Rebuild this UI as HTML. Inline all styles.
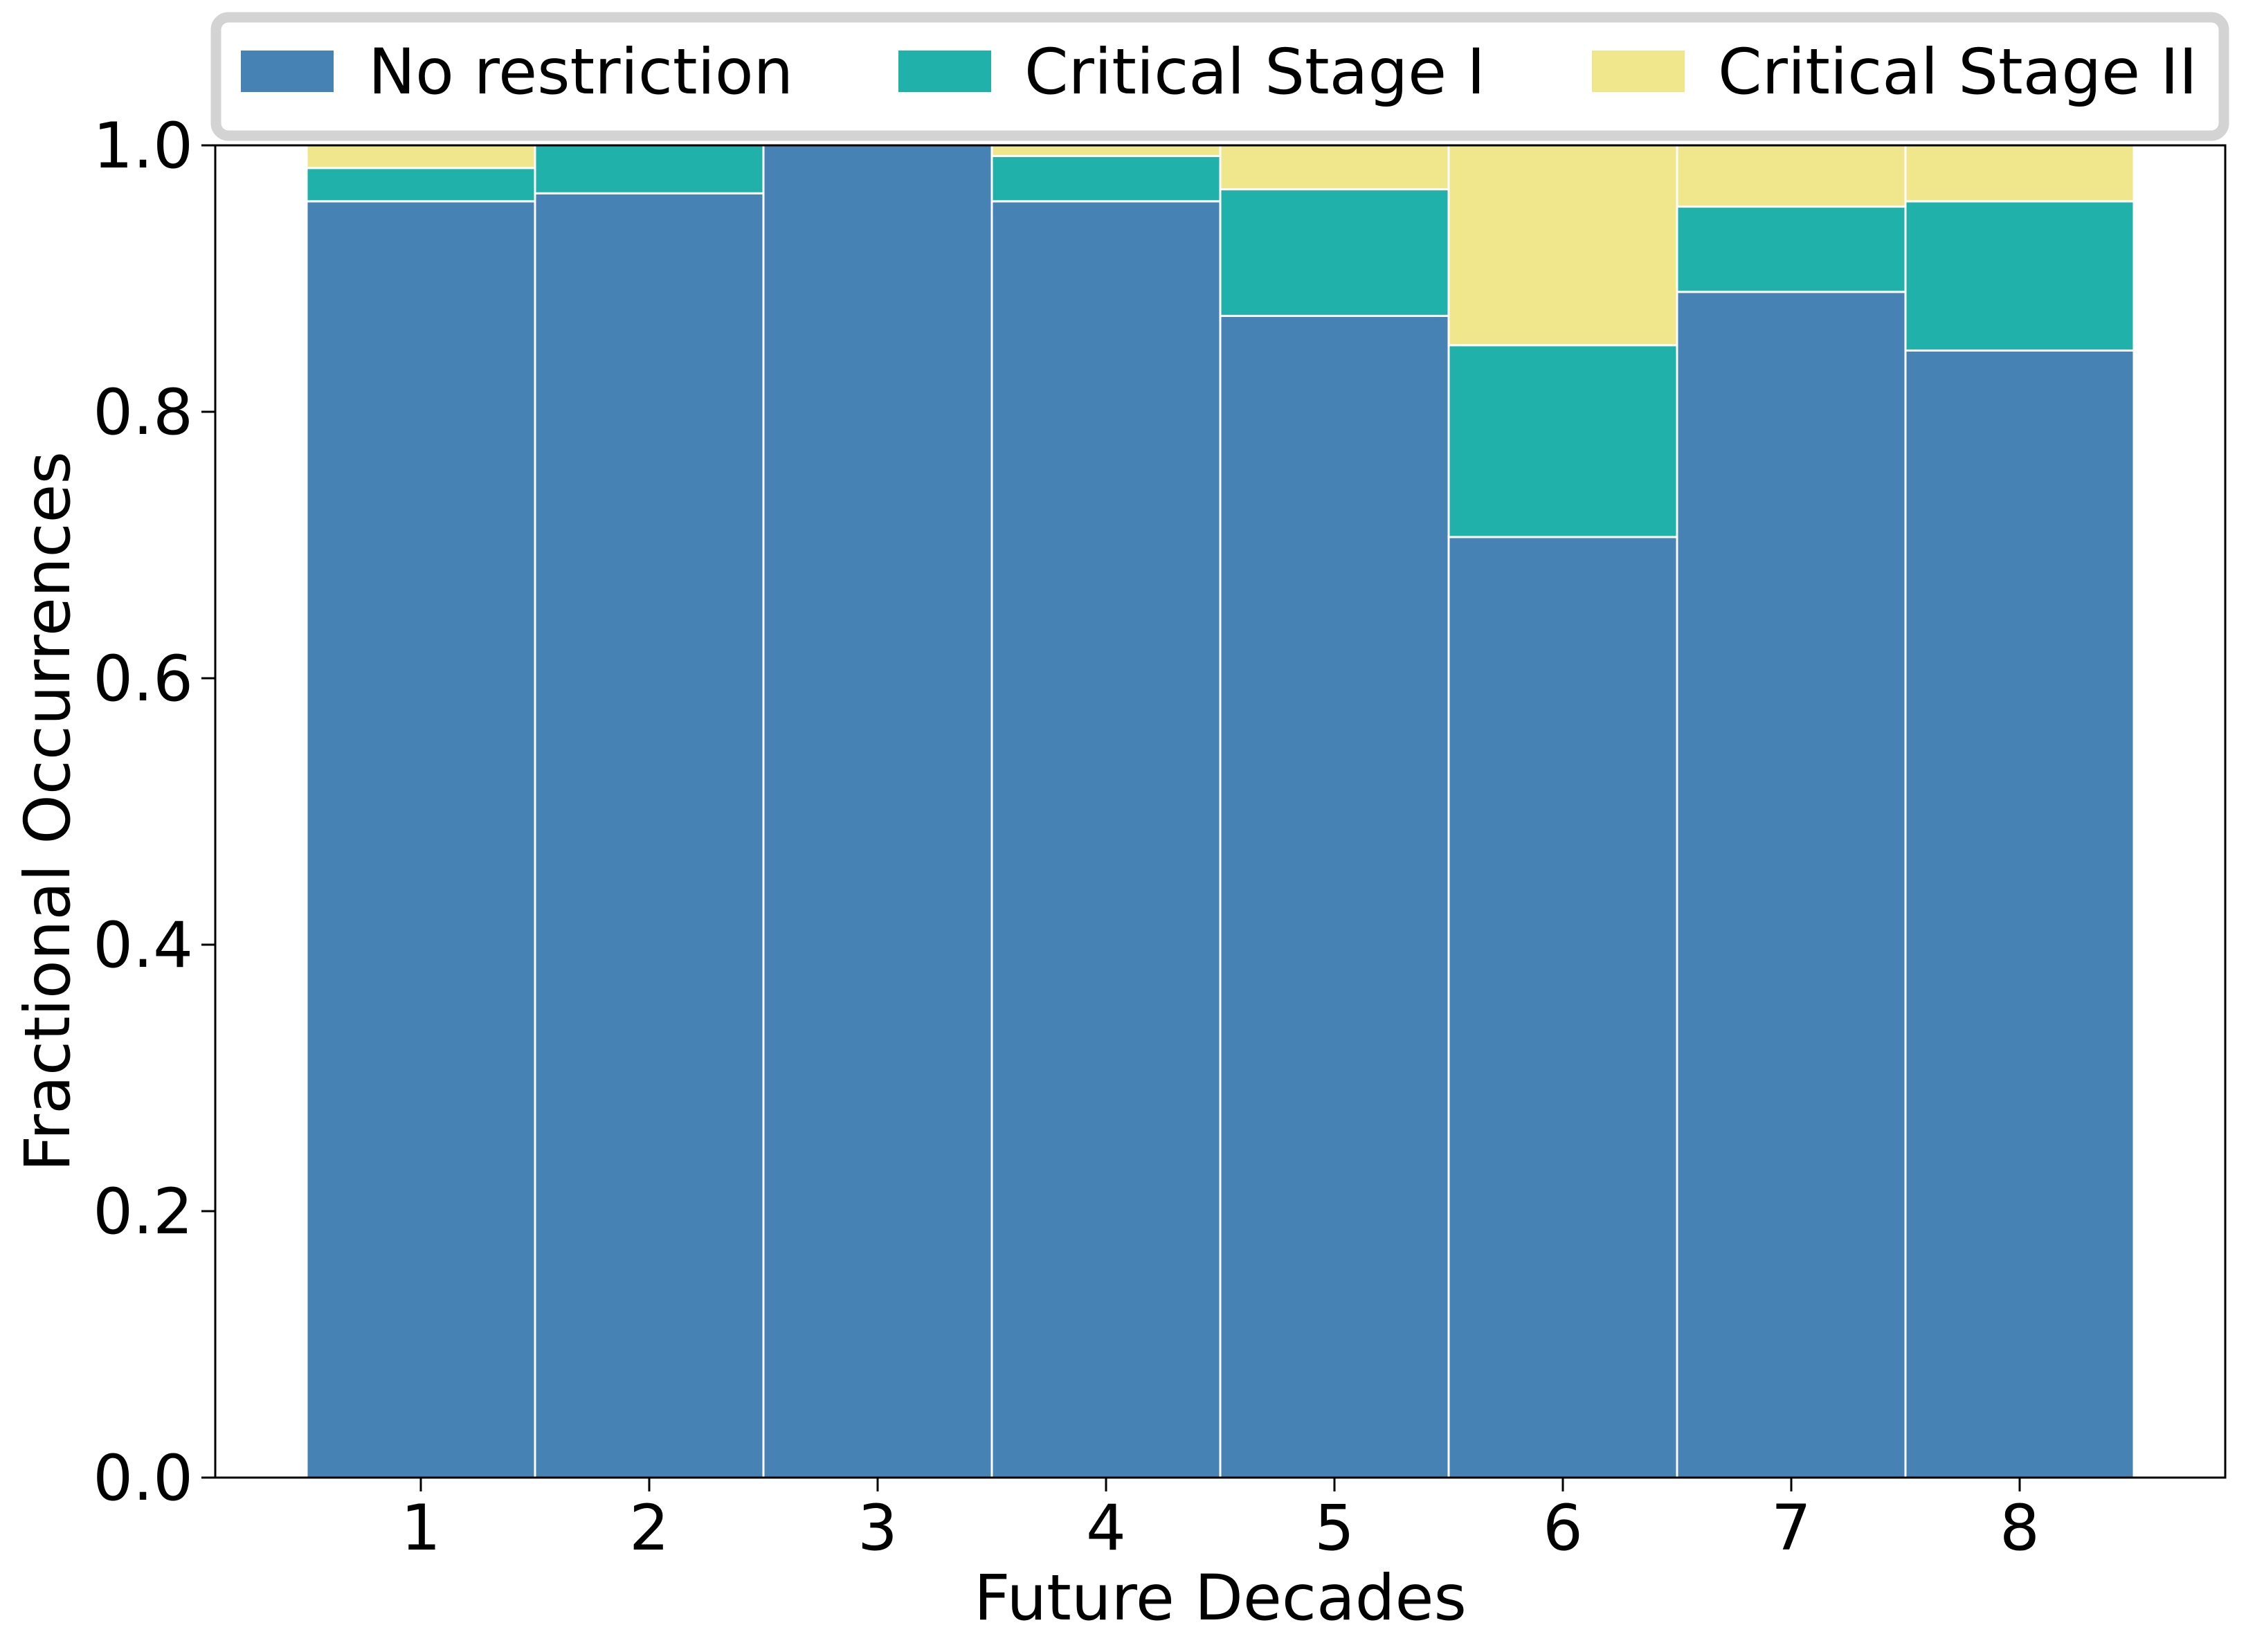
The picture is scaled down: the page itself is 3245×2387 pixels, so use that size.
<!DOCTYPE html>
<html><head><meta charset="utf-8"><style>
body{margin:0;background:#fff}
svg{display:block;font-family:"DejaVu Sans","Liberation Sans",sans-serif}
</style></head><body>
<svg id="chart" width="3245" height="2387" viewBox="0 0 3245 2387" xmlns="http://www.w3.org/2000/svg">
<rect width="3245" height="2387" fill="#fff"/>
<g id="bars"></g>
<g id="axes"></g>
<g>
<rect x="312" y="25" width="2901" height="171" rx="18" fill="#fff" stroke="#d3d3d3" stroke-width="15"/>
<rect x="348" y="73" width="134" height="60" fill="#4682b4"/>
<text x="532" y="135" font-size="91">No restriction</text>
<rect x="1298" y="73" width="134" height="60" fill="#20b2aa"/>
<text x="1480" y="135" font-size="91">Critical Stage I</text>
<rect x="2300" y="73" width="134" height="60" fill="#f0e68c"/>
<text x="2482" y="135" font-size="91">Critical Stage II</text>
</g>
</svg>
<script>
const categories = [1,2,3,4,5,6,7,8];
const noRestriction = [0.958,0.964,1.0,0.958,0.872,0.706,0.890,0.846];
const stageOne = [0.025,0.036,0.0,0.034,0.095,0.144,0.064,0.112];
const stageTwo = [0.017,0.0,0.0,0.008,0.033,0.150,0.046,0.042];
const yTicks = [0,0.2,0.4,0.6,0.8,1.0];
const yTickLabels = ["0.0","0.2","0.4","0.6","0.8","1.0"];

const NS="http://www.w3.org/2000/svg";
const L=311,R=3215,T=210,B=2135,xmin=0.1,xmax=8.9;
const X=v=>L+(v-xmin)/(xmax-xmin)*(R-L);
const Y=v=>B-v*(B-T);
function mk(tag,attrs,parent){const e=document.createElementNS(NS,tag);for(const k in attrs)e.setAttribute(k,attrs[k]);parent.appendChild(e);return e;}
const bars=document.getElementById('bars'), axes=document.getElementById('axes');
const series=[[noRestriction,'#4682b4','no-restriction'],[stageOne,'#20b2aa','critical-stage-1'],[stageTwo,'#f0e68c','critical-stage-2']];
categories.forEach((c,i)=>{
  let base=0;
  series.forEach(([arr,col,nm])=>{
    const v=arr[i];
    if(v>0){
      const r=mk('rect',{x:X(c-0.5),y:Y(base+v),width:X(c+0.5)-X(c-0.5),height:Y(base)-Y(base+v),fill:col,stroke:'#fff','stroke-width':3},bars);
      
      
    }
    base+=v;
  });
});
mk('rect',{x:L,y:T,width:R-L,height:B-T,fill:'none',stroke:'#000','stroke-width':3},axes);
yTicks.forEach((t,i)=>{
  mk('line',{x1:L-20,x2:L,y1:Y(t),y2:Y(t),stroke:'#000','stroke-width':3},axes);
  const tx=mk('text',{x:L-32,y:Y(t)+32,'font-size':91,'text-anchor':'end'},axes);
  tx.textContent=yTickLabels[i];
  
  
});
categories.forEach(c=>{
  mk('line',{x1:X(c),x2:X(c),y1:B,y2:B+20,stroke:'#000','stroke-width':3},axes);
  const tx=mk('text',{x:X(c),y:B+104,'font-size':91,'text-anchor':'middle'},axes);
  tx.textContent=String(c);
  
  
});
const xl=mk('text',{x:(L+R)/2,y:2340,'font-size':91,'text-anchor':'middle'},axes);
xl.textContent='Future Decades';


const yl=mk('text',{x:0,y:0,'font-size':91,'text-anchor':'middle',transform:'translate(100,'+((T+B)/2)+') rotate(-90)'},axes);
yl.textContent='Fractional Occurrences';


</script>
</body></html>
